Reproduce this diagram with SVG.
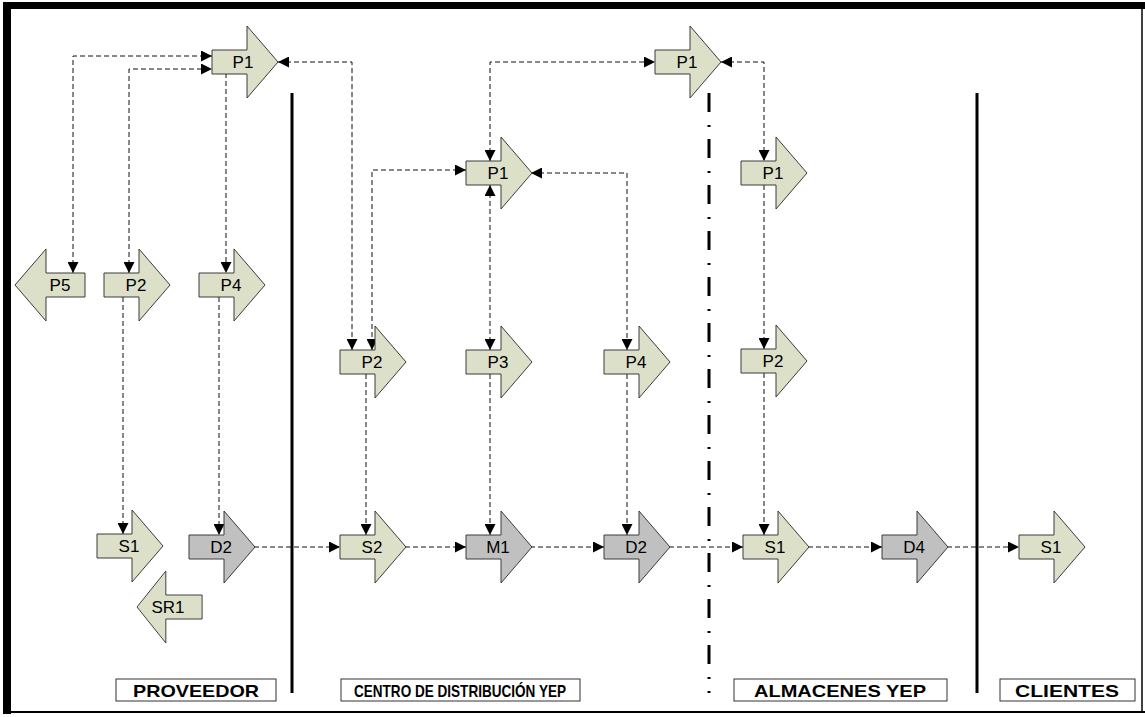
<svg xmlns="http://www.w3.org/2000/svg" width="1145" height="717" viewBox="0 0 1145 717">
  <style>
    .pa { fill: #dde0c9; stroke: #3a3a3a; stroke-width: 1; }
    .pg { fill: #c0c0c0; stroke: #3a3a3a; stroke-width: 1; }
    .lbl { font-family: "Liberation Sans", Arial, sans-serif; font-size: 17px; fill: #000; text-anchor: middle; }
    .zone { font-family: "Liberation Sans", Arial, sans-serif; font-size: 17px; font-weight: bold; fill: #000; text-anchor: middle; }
    .zbox { fill: #fff; stroke: #333; stroke-width: 1; }
    .cn { fill: none; stroke: #111; stroke-width: 1; stroke-dasharray: 5 3; }
    .sep { stroke: #000; stroke-width: 3; fill: none; }
  </style>
  <defs>
    <!-- block arrow pointing right, origin at left middle of the body -->
    <path id="ra" d="M0,-12 H35 V-36 L66,0 L35,36 V12 H0 Z"/>
    <!-- block arrow pointing left, origin at the tip -->
    <path id="la" d="M0,0 L31,-36 V-12 H70 V12 H31 V36 Z"/>
    <marker id="ah" viewBox="0 0 10 10" refX="10" refY="5" markerWidth="12" markerHeight="11" markerUnits="userSpaceOnUse" orient="auto-start-reverse">
      <path d="M0,0 L10,5 L0,10 Z" fill="#000"/>
    </marker>
  </defs>

  <rect x="0" y="0" width="1145" height="717" fill="#fff"/>

  <!-- frame -->
  <g id="frame">
    <rect x="3" y="2" width="8" height="712" fill="#000"/>
    <rect x="3" y="2" width="1142" height="7" fill="#000"/>
    <line x1="3" y1="712" x2="1145" y2="712" stroke="#000" stroke-width="2"/>
    <line x1="1142" y1="2" x2="1142" y2="713" stroke="#000" stroke-width="1.5"/>
  </g>

  <!-- zone separators -->
  <g id="separators">
    <line class="sep" x1="292" y1="93" x2="292" y2="693"/>
    <line class="sep" x1="709" y1="93" x2="709" y2="693" stroke-dasharray="19 13 2 12"/>
    <line class="sep" x1="977" y1="93" x2="977" y2="693"/>
  </g>

  <!-- connectors -->
  <g id="connectors">
    <path class="cn" d="M73,273 V56 H212" marker-start="url(#ah)" marker-end="url(#ah)"/>
    <path class="cn" d="M129,273 V69 H212" marker-start="url(#ah)" marker-end="url(#ah)"/>
    <path class="cn" d="M226,73 V273" marker-end="url(#ah)"/>
    <path class="cn" d="M123,297 V534" marker-end="url(#ah)"/>
    <path class="cn" d="M219,297 V535" marker-end="url(#ah)"/>
    <path class="cn" d="M254,547 H340" marker-end="url(#ah)"/>

    <path class="cn" d="M278,62 H352 V350" marker-start="url(#ah)" marker-end="url(#ah)"/>
    <path class="cn" d="M466,170 H372 V350" marker-start="url(#ah)" marker-end="url(#ah)"/>
    <path class="cn" d="M490,161 V62 H655" marker-start="url(#ah)" marker-end="url(#ah)"/>
    <path class="cn" d="M490,185 V350" marker-start="url(#ah)" marker-end="url(#ah)"/>
    <path class="cn" d="M531,173 H627 V350" marker-start="url(#ah)" marker-end="url(#ah)"/>
    <path class="cn" d="M366,374 V535" marker-end="url(#ah)"/>
    <path class="cn" d="M490,374 V535" marker-end="url(#ah)"/>
    <path class="cn" d="M627,374 V535" marker-end="url(#ah)"/>
    <path class="cn" d="M405,547 H466" marker-end="url(#ah)"/>
    <path class="cn" d="M530,547 H604" marker-end="url(#ah)"/>
    <path class="cn" d="M669,547 H743" marker-end="url(#ah)"/>

    <path class="cn" d="M721,62 H764 V161" marker-start="url(#ah)" marker-end="url(#ah)"/>
    <path class="cn" d="M764,185 V349" marker-end="url(#ah)"/>
    <path class="cn" d="M764,373 V535" marker-end="url(#ah)"/>
    <path class="cn" d="M808,547 H882" marker-end="url(#ah)"/>
    <path class="cn" d="M947,547 H1019" marker-end="url(#ah)"/>
  </g>

  <!-- PROVEEDOR -->
  <g id="prov-p1"><use href="#ra" class="pa" x="212" y="62"/><text class="lbl" x="243" y="68">P1</text></g>
  <g id="prov-p5"><use href="#la" class="pa" x="15" y="285"/><text class="lbl" x="60" y="291">P5</text></g>
  <g id="prov-p2"><use href="#ra" class="pa" x="104" y="285"/><text class="lbl" x="136" y="291">P2</text></g>
  <g id="prov-p4"><use href="#ra" class="pa" x="199" y="285"/><text class="lbl" x="231" y="291">P4</text></g>
  <g id="prov-s1"><use href="#ra" class="pa" x="97" y="546"/><text class="lbl" x="129" y="552">S1</text></g>
  <g id="prov-d2"><use href="#ra" class="pg" x="189" y="547"/><text class="lbl" x="221" y="553">D2</text></g>
  <g id="prov-sr1"><use href="#la" class="pa" x="137" y="607" transform="translate(137 607) scale(0.93 1) translate(-137 -607)"/><text class="lbl" x="168" y="613">SR1</text></g>

  <!-- CENTRO DE DISTRIBUCION -->
  <g id="cd-p1"><use href="#ra" class="pa" x="466" y="173"/><text class="lbl" x="498" y="179">P1</text></g>
  <g id="cd-p2"><use href="#ra" class="pa" x="340" y="362"/><text class="lbl" x="372" y="368">P2</text></g>
  <g id="cd-p3"><use href="#ra" class="pa" x="466" y="362"/><text class="lbl" x="498" y="368">P3</text></g>
  <g id="cd-p4"><use href="#ra" class="pa" x="604" y="362"/><text class="lbl" x="636" y="368">P4</text></g>
  <g id="cd-s2"><use href="#ra" class="pa" x="340" y="547"/><text class="lbl" x="372" y="553">S2</text></g>
  <g id="cd-m1"><use href="#ra" class="pg" x="466" y="547"/><text class="lbl" x="498" y="553">M1</text></g>
  <g id="cd-d2"><use href="#ra" class="pg" x="604" y="547"/><text class="lbl" x="636" y="553">D2</text></g>
  <g id="top-p1"><use href="#ra" class="pa" x="655" y="62"/><text class="lbl" x="687" y="68">P1</text></g>

  <!-- ALMACENES -->
  <g id="alm-p1"><use href="#ra" class="pa" x="741" y="173"/><text class="lbl" x="773" y="179">P1</text></g>
  <g id="alm-p2"><use href="#ra" class="pa" x="741" y="361"/><text class="lbl" x="773" y="367">P2</text></g>
  <g id="alm-s1"><use href="#ra" class="pa" x="743" y="547"/><text class="lbl" x="775" y="553">S1</text></g>
  <g id="alm-d4"><use href="#ra" class="pg" x="882" y="547"/><text class="lbl" x="914" y="553">D4</text></g>

  <!-- CLIENTES -->
  <g id="cli-s1"><use href="#ra" class="pa" x="1019" y="547"/><text class="lbl" x="1051" y="553">S1</text></g>

  <!-- zone labels -->
  <g id="zone-proveedor"><rect class="zbox" x="116" y="679" width="160" height="22"/><text class="zone" x="196" y="697" textLength="126" lengthAdjust="spacingAndGlyphs">PROVEEDOR</text></g>
  <g id="zone-centro"><rect class="zbox" x="341" y="679" width="239" height="22"/><text class="zone" x="460" y="697" textLength="212" lengthAdjust="spacingAndGlyphs">CENTRO DE DISTRIBUCIÓN YEP</text></g>
  <g id="zone-almacenes"><rect class="zbox" x="734" y="679" width="213" height="22"/><text class="zone" x="840" y="697" textLength="172" lengthAdjust="spacingAndGlyphs">ALMACENES YEP</text></g>
  <g id="zone-clientes"><rect class="zbox" x="1000" y="679" width="135" height="22"/><text class="zone" x="1067" y="697" textLength="104" lengthAdjust="spacingAndGlyphs">CLIENTES</text></g>
</svg>
